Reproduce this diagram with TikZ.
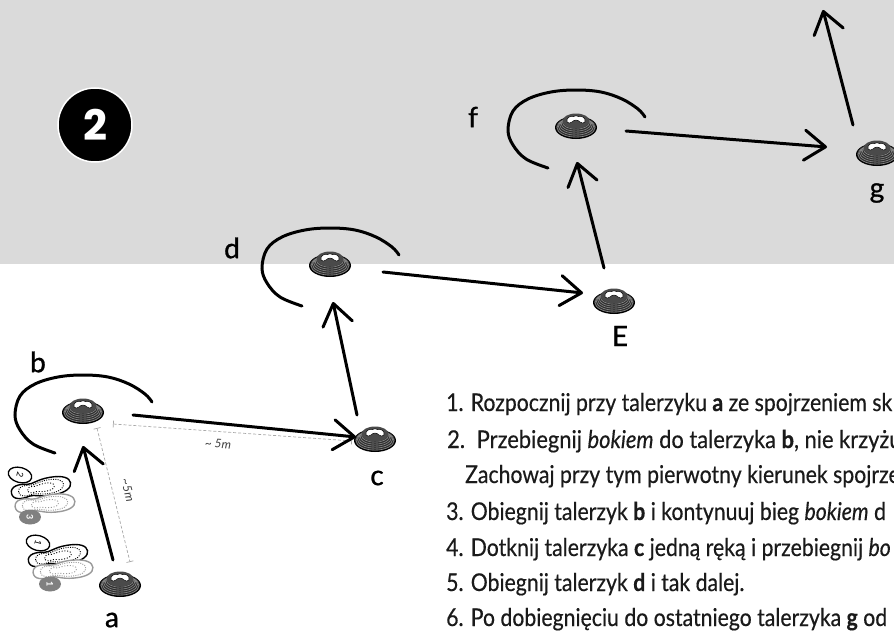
\documentclass[tikz,border=0pt]{standalone}
\usepackage{fontspec}
\setmainfont{Lato}
\newfontfamily\labelfont[FakeBold=1.0]{Lato}
\newfontfamily\smallfont{Lato}
\newfontfamily\badgefont{Poppins}
\newfontfamily\bodyfont[FakeStretch=0.867,FakeBold=0.4]{Lato}
\usetikzlibrary{arrows.meta,calc,shapes.geometric}

\definecolor{bggray}{HTML}{DADADA}
\definecolor{ink}{HTML}{1A1A1A}
\definecolor{conedark}{HTML}{2E2E2E}
\definecolor{conetop}{HTML}{4A4A4A}
\definecolor{ringgray}{HTML}{8A8A8A}
\definecolor{measgray}{HTML}{A8A8A8}
\definecolor{printgray}{HTML}{9A9A9A}
\definecolor{badgegray}{HTML}{808080}

% widen one instruction line to its set length
\newcommand\widen[2]{\scalebox{#1}[1]{#2}}

\tikzset{
  % flat training disc seen from the side
  discone/.pic={
    \fill[black] (0,2.5) ellipse (21 and 11.5);
    \fill[conedark] (0,2) ellipse (20 and 10.5);
    \foreach \k in {0,...,4}{
      \draw[ringgray, line width=0.6] (0,{2.5-\k*1.2}) ellipse ({19-\k*1.4} and {9.6-\k*0.8});
    }
    \fill[conetop] (0,-4) ellipse (13.5 and 7.5);
    \fill[white, draw=black, line width=0.5]
      (-9,-3) .. controls (-10,-7) and (-6,-9.5) .. (-2.5,-8.5)
      .. controls (-1,-9.5) and (1,-9.5) .. (2.5,-8.5)
      .. controls (6,-9.5) and (10,-7) .. (9,-3)
      .. controls (8,-1.5) and (5.5,-1.5) .. (4,-3)
      .. controls (2,-5.5) and (-2,-5.5) .. (-4,-3)
      .. controls (-5.5,-1.5) and (-8,-1.5) .. (-9,-3) -- cycle;
  },
  % open circle run around a disc
  orbit/.pic={
    \draw[line width=3, line cap=round] plot[smooth, tension=0.6] coordinates
      {(-28,43) (-50,34) (-63,20) (-68,5) (-63,-14) (-48,-26) (-25,-33)
       (0,-35) (25,-33) (46,-26) (62,-16) (69,-8)};
  },
  solepath/.style={insert path={
    (-30,0) .. controls (-30,-7) and (-21,-8) .. (-13,-6)
    .. controls (-7,-5) and (-3,-9) .. (10,-9)
    .. controls (24,-9) and (30,-5) .. (30,0)
    .. controls (30,5) and (24,9) .. (10,9)
    .. controls (-3,9) and (-7,5) .. (-13,6)
    .. controls (-21,8) and (-30,7) .. (-30,0) -- cycle}},
  pics/sole/.style={code={
    \draw[#1, line width=1.4, fill=white, solepath];
    \draw[#1, line width=0.9, dash pattern=on 1pt off 1.3pt, scale=0.76, solepath];
    \draw[#1, line width=0.9, dash pattern=on 1pt off 1.8pt, scale=0.45, solepath];
  }},
  arr/.style={line width=3, line cap=round,
    -{Straight Barb[length=21pt,width=30pt,round]}},
  meas/.style={draw=measgray, line width=0.7, dash pattern=on 3pt off 2pt,
    {Bar[width=7pt,line width=0.7pt]}-{Bar[width=7pt,line width=0.7pt]}},
  measlabel/.style={font=\smallfont\itshape\fontsize{12}{12}\selectfont,
    text=black!75, inner sep=0.5pt},
  lbl/.style={font=\labelfont\fontsize{28}{28}\selectfont, text=black, inner sep=0pt},
  stepline/.style={anchor=base west, inner sep=0pt, text=ink,
    font=\bodyfont\fontsize{24.5}{24.5}\selectfont},
  markout/.style={ellipse, draw=black, fill=white, line width=1.3,
    minimum width=24, minimum height=15, inner sep=0pt,
    font=\smallfont\fontsize{9}{9}\selectfont},
  markfill/.style={ellipse, fill=badgegray, text=white,
    minimum width=22, minimum height=15, inner sep=0pt,
    font=\smallfont\bfseries\fontsize{9}{9}\selectfont},
}

\begin{document}
\begin{tikzpicture}[x=1pt,y=-1pt]
\clip (0,0) rectangle (894,634);
\fill[white] (0,0) rectangle (894,634);
\fill[bggray] (0,0) rectangle (894,264);

% exercise number
\node[circle, fill=black, draw=white, line width=1.5, minimum size=74, inner sep=0pt]
  (badge) at (95,125) {\badgefont\bfseries\fontsize{42}{42}\selectfont\color{white}2};

% disc positions
\coordinate (ca) at (120,583);
\coordinate (cb) at (83,410);
\coordinate (cc) at (375,438);
\coordinate (cd) at (330,263);
\coordinate (cE) at (614,300);
\coordinate (cf) at (576,125);
\coordinate (cg) at (877,152);
\coordinate (exit) at (823,10);

% distance markers
\draw[meas] ($(cb)+(14,18)$) -- ($(ca)+(10,-21)$);
\node[measlabel, rotate=-76] (m1) at (128,490) {\textasciitilde5m};
\draw[meas] ($(cb)+(30,14)$) -- ($(cc)+(-23,3)$);
\node[measlabel, rotate=-4.5] (m2) at (218,444) {\textasciitilde{} 5m};

% runs around discs
\pic at (cb) {orbit};
\pic at (cd) {orbit};
\pic at (cf) {orbit};

% discs
\foreach \c in {ca,cb,cc,cd,cE,cf,cg}{ \pic at (\c) {discone}; }

% route
\draw[arr] ($(ca)+(-7,-23)$) -- ($(cb)+(0,36)$);
\draw[arr] ($(cb)+(50,5)$) -- ($(cc)+(-19,-1)$);
\draw[arr] ($(cc)+(-18,-23)$) -- ($(cd)+(3,39)$);
\draw[arr] ($(cd)+(53,9)$) -- ($(cE)+(-31,-7)$);
\draw[arr] ($(cE)+(-10,-32)$) -- ($(cf)+(1,37)$);
\draw[arr] ($(cf)+(50,6)$) -- ($(cg)+(-50,-5)$);
\draw[arr] ($(cg)+(-24,-27)$) -- (exit);

% disc labels
\node[lbl] (la) at (112,620) {a};
\node[lbl] (lb) at (38,362) {b};
\node[lbl] (lc) at (377,478) {c};
\node[lbl] (ld) at (232,248) {d};
\node[lbl] (lE) at (620,336) {E};
\node[lbl] (lf) at (473,117) {f};
\node[lbl] (lg) at (877,193) {g};

% footwork
\pic[rotate=10] at (41,488) {sole=black};
\pic[rotate=5] at (45,504) {sole=printgray};
\pic[rotate=10] at (58,556) {sole=black};
\pic[rotate=5] at (63,570) {sole=printgray};
\node[markout, rotate=-15] (s2) at (20,475) {\rotatebox{-90}{2}};
\node[markfill] (s3) at (30,517) {\rotatebox{-90}{3}};
\node[markout, rotate=-15] (s1) at (38,543) {\rotatebox{-90}{1}};
\node[markfill] (s4) at (50,584) {\rotatebox{-90}{1}};

% instructions
\node[stepline] (t1) at (446,411) {1. Rozpocznij przy talerzyku \textbf{a} ze spojrzeniem sk};
\node[stepline] (t2) at (447,448) {\widen{1.03}{2. \,Przebiegnij \textit{bokiem} do talerzyka \textbf{b}, nie krzyżu}};
\node[stepline] (t3) at (465,483) {Zachowaj przy tym pierwotny kierunek spojrze};
\node[stepline] (t4) at (446,520) {3. Obiegnij talerzyk \textbf{b} i kontynuuj bieg \textit{bokiem} d};
\node[stepline] (t5) at (446,556) {4. Dotknij talerzyka \textbf{c} jedną ręką i przebiegnij \textit{bo}};
\node[stepline] (t6) at (446,591) {5. Obiegnij talerzyk \textbf{d} i tak dalej.};
\node[stepline] (t7) at (446,626) {6. Po dobiegnięciu do ostatniego talerzyka \textbf{g} od};
\end{tikzpicture}
\end{document}
